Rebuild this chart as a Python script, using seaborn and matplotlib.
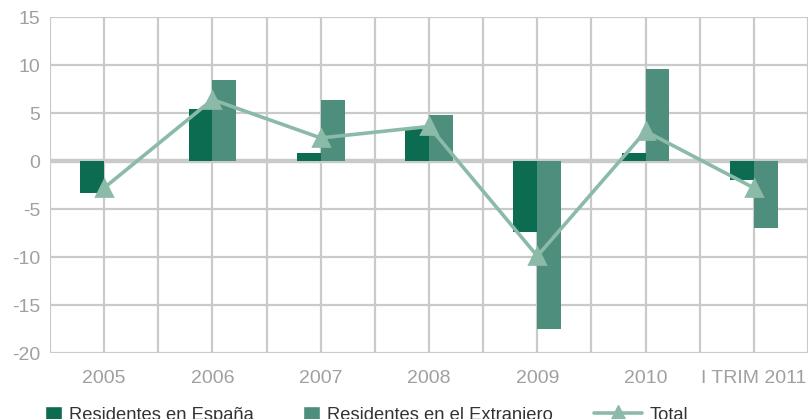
import pandas as pd
import numpy as np
import seaborn as sns
import matplotlib.pyplot as plt
from matplotlib.patches import Patch
from matplotlib.lines import Line2D

periodos = ["2005", "2006", "2007", "2008", "2009", "2010", "I TRIM 2011"]
espana = [-3.3, 5.4, 0.8, 3.3, -7.4, 0.8, -2.0]
extranjero = [0.0, 8.4, 6.4, 4.8, -17.5, 9.6, -7.0]
total = [-2.8, 6.4, 2.4, 3.6, -9.9, 3.1, -2.8]
series = ["Residentes en España", "Residentes en el Extranjero"]

c_esp = "#0b6c51"
c_ext = "#4d8f7c"
c_tot = "#8bbaa8"
grid_c = "#c9cbca"

sns.set_style("white")
plt.rcParams["font.family"] = ["Liberation Sans", "DejaVu Sans"]
plt.rcParams["axes.unicode_minus"] = False

df = pd.DataFrame({
    "periodo": periodos * 2,
    "valor": espana + extranjero,
    "serie": [series[0]] * len(periodos) + [series[1]] * len(periodos),
})
df_tot = pd.DataFrame({"periodo": periodos, "total": total})

fig = plt.figure(figsize=(8.08, 4.19), dpi=100)
ax = fig.add_axes([50 / 808, 1 - 353 / 419, 1 - 50 / 808, 336 / 419])

# grid drawn by hand so the zero line can be thicker
for y in range(-20, 16, 5):
    ax.axhline(y, color=grid_c, lw=1.6 if y else 3.2, zorder=0)
for x in np.arange(-0.5, 6.6, 0.5):
    ax.axvline(x, color=grid_c, lw=1.6, zorder=0)

sns.barplot(data=df, x="periodo", y="valor", hue="serie", palette=[c_esp, c_ext],
            width=0.44, gap=0, saturation=1, edgecolor="none", legend=False,
            errorbar=None, ax=ax, zorder=2)
sns.pointplot(data=df_tot, x="periodo", y="total", color=c_tot, markers="^",
              markersize=11, linewidth=2.6, errorbar=None, ax=ax, zorder=3)

ax.set_xlim(-0.5, 6.5)
ax.set_ylim(-20, 15)
ax.set_yticks(range(-20, 16, 5))
ax.set_xticks(np.arange(-0.5, 6.6, 0.5), minor=True)
ax.tick_params(axis="both", which="both", length=5, width=1.6, color=grid_c,
               labelcolor="#a0a0a0", labelsize=14, pad=2)
ax.tick_params(axis="x", which="major", length=0, pad=12)
ax.set_xlabel("")
ax.set_ylabel("")
for s in ax.spines.values():
    s.set_visible(False)

items = [
    (Patch(facecolor=c_esp), series[0], 38, 0.9),
    (Patch(facecolor=c_ext), series[1], 296, 0.9),
    (Line2D([], [], color=c_tot, lw=2.6, marker="^", markersize=11), "Total", 587, 2.6),
]
for h, lab, x0, hl in items:
    fig.legend([h], [lab], loc="upper left", bbox_to_anchor=(x0 / 808, 1 - 399 / 419),
               frameon=False, fontsize=13.2, handlelength=hl, handleheight=0.9,
               handletextpad=0.4, labelcolor="#333333", borderaxespad=0)

fig.savefig("out.png", dpi=100)
